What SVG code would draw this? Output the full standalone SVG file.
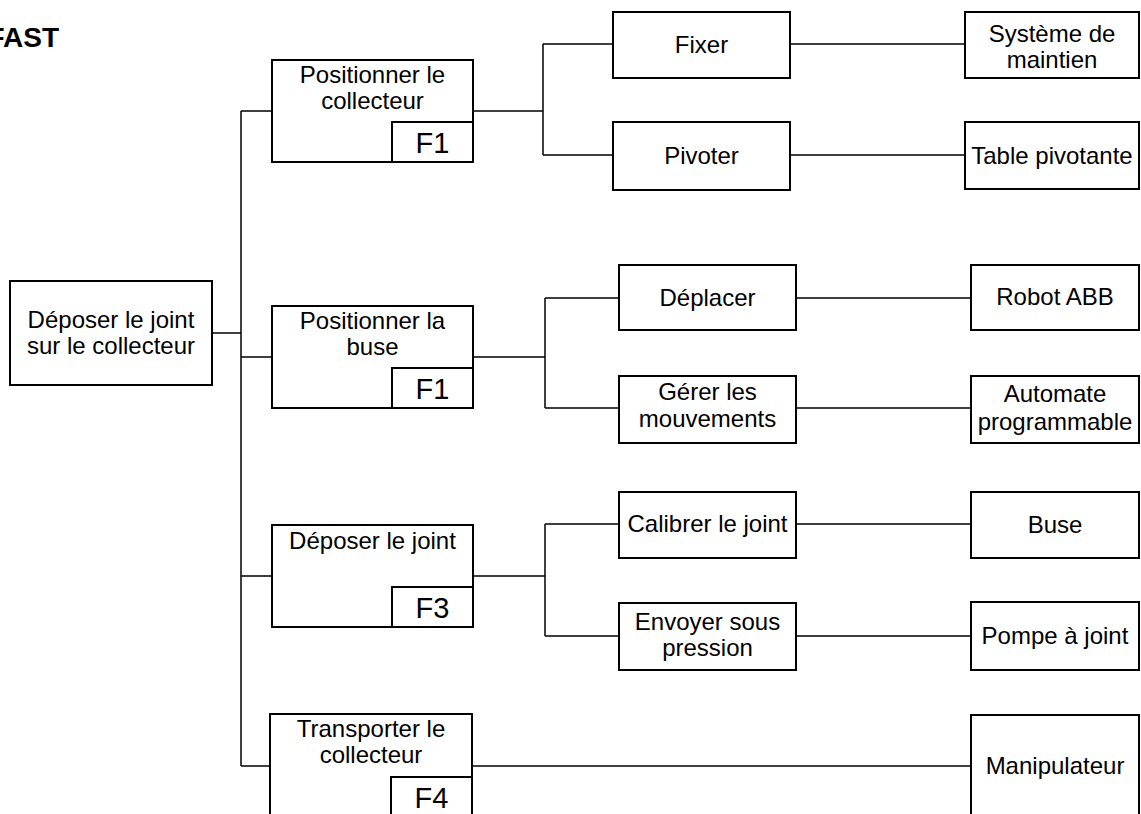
<svg xmlns="http://www.w3.org/2000/svg" width="1141" height="814" viewBox="0 0 1141 814">
<style>
.box{fill:#fff;stroke:#000;stroke-width:2}
.t{font-family:"Liberation Sans",Arial,sans-serif;font-size:24px;fill:#000;text-anchor:middle}
.f{font-family:"Liberation Sans",Arial,sans-serif;font-size:29px;fill:#000;text-anchor:middle}
.c{fill:none;stroke:#000;stroke-width:1.5}
</style>
<rect width="1141" height="814" fill="#fff"/>
<text x="59" y="47" font-family="'Liberation Sans',Arial,sans-serif" font-size="28" font-weight="bold" text-anchor="end">FAST</text>
<g id="connectors">
<path class="c" d="M212,333H241" stroke-width="2.5"/>
<path class="c" d="M241,111V766M241,111H272M241,357H272M241,576H272M241,766H272"/>
<path class="c" d="M473,111H543M543,44V155M543,44H613M543,155H613M790,44H965M790,155H965"/>
<path class="c" d="M473,357H545M545,298V408M545,298H619M545,408H619M796,298H971M796,408H971"/>
<path class="c" d="M473,576H545M545,524V636M545,524H619M545,636H619M796,524H971M796,636H971"/>
<path class="c" d="M472,766H971"/>
</g>
<g id="n0"><rect class="box" x="10" y="281" width="202" height="104"/><text class="t" x="111" y="328">Déposer le joint</text><text class="t" x="111" y="354">sur le collecteur</text></g>
<g id="f1"><rect class="box" x="272" y="60" width="201" height="102"/><text class="t" x="372.5" y="83">Positionner le</text><text class="t" x="372.5" y="109">collecteur</text><rect class="box" x="392" y="122" width="81" height="40"/><text class="f" x="432.5" y="153">F1</text></g>
<g id="f2"><rect class="box" x="272" y="306" width="201" height="102"/><text class="t" x="372.5" y="329">Positionner la</text><text class="t" x="372.5" y="355">buse</text><rect class="box" x="392" y="368" width="81" height="40"/><text class="f" x="432.5" y="399">F1</text></g>
<g id="f3"><rect class="box" x="272" y="525" width="201" height="102"/><text class="t" x="372.5" y="549">Déposer le joint</text><rect class="box" x="392" y="587" width="81" height="40"/><text class="f" x="432.5" y="618">F3</text></g>
<g id="f4"><rect class="box" x="270" y="714" width="202" height="110"/><text class="t" x="371" y="737">Transporter le</text><text class="t" x="371" y="763">collecteur</text><rect class="box" x="391" y="777" width="81" height="50"/><text class="f" x="431.5" y="808">F4</text></g>
<g id="fixer"><rect class="box" x="613" y="12" width="177" height="66"/><text class="t" x="701.5" y="53">Fixer</text></g>
<g id="pivoter"><rect class="box" x="613" y="122" width="177" height="68"/><text class="t" x="701.5" y="164">Pivoter</text></g>
<g id="deplacer"><rect class="box" x="619" y="265" width="177" height="65"/><text class="t" x="707.5" y="306">Déplacer</text></g>
<g id="gerer"><rect class="box" x="619" y="376" width="177" height="67"/><text class="t" x="707.5" y="400">Gérer les</text><text class="t" x="707.5" y="427">mouvements</text></g>
<g id="calibrer"><rect class="box" x="619" y="492" width="177" height="66"/><text class="t" x="707.5" y="532">Calibrer le joint</text></g>
<g id="envoyer"><rect class="box" x="619" y="603" width="177" height="67"/><text class="t" x="707.5" y="630">Envoyer sous</text><text class="t" x="707.5" y="656">pression</text></g>
<g id="systeme"><rect class="box" x="965" y="12" width="174" height="66"/><text class="t" x="1052" y="42">Système de</text><text class="t" x="1052" y="68">maintien</text></g>
<g id="table"><rect class="box" x="965" y="122" width="174" height="67"/><text class="t" x="1052" y="164">Table pivotante</text></g>
<g id="robot"><rect class="box" x="971" y="265" width="168" height="65"/><text class="t" x="1055" y="305">Robot ABB</text></g>
<g id="automate"><rect class="box" x="971" y="376" width="168" height="67"/><text class="t" x="1055" y="402">Automate</text><text class="t" x="1055" y="430">programmable</text></g>
<g id="buse"><rect class="box" x="971" y="492" width="168" height="66"/><text class="t" x="1055" y="533">Buse</text></g>
<g id="pompe"><rect class="box" x="971" y="602" width="168" height="68"/><text class="t" x="1055" y="644">Pompe à joint</text></g>
<g id="manip"><rect class="box" x="971" y="715" width="168" height="110"/><text class="t" x="1055" y="774">Manipulateur</text></g>
</svg>
